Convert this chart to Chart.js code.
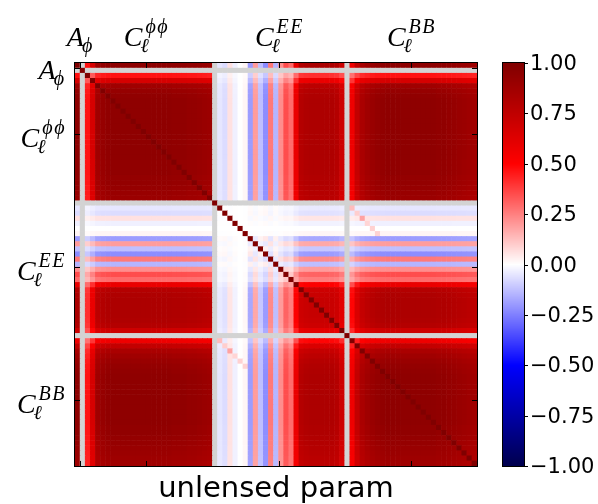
<!DOCTYPE html>
<html>
<head>
<meta charset="utf-8">
<script src="https://cdn.jsdelivr.net/npm/chart.js@4.4.1/dist/chart.umd.min.js"></script>
<style>
    html, body { margin: 0; padding: 0; background: #fff; }
    #wrap { width: 598px; height: 504px; }
</style>
</head>
<body>
<div id="wrap"><canvas id="corrChart" width="598" height="504"></canvas></div>
<script>
const aPhiBin = [0.98];
const phiBins = [0.48, 0.68, 0.9, 0.94, 0.96, 0.97, 0.97, 0.97, 0.97, 0.97, 0.97, 0.97, 0.97,
                 0.97, 0.97, 0.97, 0.97, 0.96, 0.96, 0.96, 0.95, 0.95, 0.94, 0.93, 0.92];
const eeBins = [-0.05, -0.07, 0.06, -0.03, 0.0, 0.02, -0.2, 0.2, -0.13, -0.23, 0.27, -0.15, 0.23,
                0.36, 0.3, 0.6, 0.82, 0.84, 0.85, 0.85, 0.85, 0.85, 0.84, 0.82, 0.72];
const bbBins = [0.58, 0.76, 0.86, 0.9, 0.93, 0.95, 0.96, 0.97, 0.97, 0.97, 0.97, 0.97, 0.97,
                0.97, 0.97, 0.97, 0.97, 0.96, 0.96, 0.95, 0.94, 0.93, 0.92, 0.91, 0.9];
// faint extra correlation between EE bin k and BB bin k
const eeBbDiag = [0.16, 0.15, 0.13, 0.11, 0.09, 0.07];

// tick positions (matrix index) and labels
const tickPos = [0.5, 13.5, 39.5, 65.5];
const tickLabels = [
    { base: "A", sub: "ϕ", sup: "" },
    { base: "C", sub: "ℓ", sup: "ϕϕ" },
    { base: "C", sub: "ℓ", sup: "EE" },
    { base: "C", sub: "ℓ", sup: "BB" },
];
const cbTicks = [1, 0.75, 0.5, 0.25, 0, -0.25, -0.5, -0.75, -1];
const xLabel = "unlensed param";

// seismic colormap
const cmapStops = [
    [-1, [0, 0, 77]],
    [-0.5, [0, 0, 255]],
    [0, [255, 255, 255]],
    [0.5, [255, 0, 0]],
    [1, [128, 0, 0]],
];
function seismic(v) {
    v = Math.max(-1, Math.min(1, v));
    for (let k = 0; k < cmapStops.length - 1; k++) {
        const [v0, c0] = cmapStops[k];
        const [v1, c1] = cmapStops[k + 1];
        if (v <= v1) {
            const t = (v - v0) / (v1 - v0);
            const c = c0.map((c, i) => Math.round(c + (c1[i] - c) * t));
            return `rgb(${c[0]},${c[1]},${c[2]})`;
        }
    }
    return "rgb(128,0,0)";
}

// Build the matrix layout: A_phi | gap | phi | gap | EE | gap | BB
const groups = [aPhiBin, phiBins, eeBins, bbBins];
const loads = [];
const kind = [];
groups.forEach((g, gi) => {
    if (gi > 0) {
        loads.push(null);
        kind.push(null);
    }
    g.forEach((v, k) => {
        loads.push(v);
        kind.push([gi, k]);
    });
});
const N = loads.length;

const points = [];
const colors = [];
for (let i = 0; i < N; i++) {
    for (let j = 0; j < N; j++) {
        let v;
        if (i === j) v = 1;
        else if (loads[i] === null || loads[j] === null) v = null;
        else {
            v = loads[i] * loads[j];
            const a = kind[i], b = kind[j];
            if (a[0] !== b[0] && a[0] + b[0] === 5 && a[1] === b[1] && a[1] < eeBbDiag.length) {
                v += eeBbDiag[a[1]];
            }
        }
        points.push({ x: j, y: i });
        colors.push(v === null ? "#d3d3d3" : seismic(v));
    }
}

function cellRadius(ctx) {
    const sx = ctx.chart.scales.x;
    const w = Math.abs(sx.getPixelForValue(1) - sx.getPixelForValue(0));
    return (w + 0.6) / Math.SQRT2;
}

// draw "base_sub^sup" math-like label
function drawMath(ctx, lab, x, y, align) {
    const baseFont = 'italic 28px "Liberation Serif", "DejaVu Serif", serif';
    const scriptFont = 'italic 20px "Liberation Serif", "DejaVu Serif", serif';
    ctx.letterSpacing = "0px";
    ctx.font = baseFont;
    const wb = ctx.measureText(lab.base).width;
    ctx.font = scriptFont;
    ctx.letterSpacing = "1.5px";
    const wsup = ctx.measureText(lab.sup).width;
    ctx.letterSpacing = "0px";
    const wsub = ctx.measureText(lab.sub).width;
    const ws = Math.max(wsub, wsup + 3);
    const total = wb + ws;
    const x0 = align === "center" ? x - total / 2 : x - total;
    ctx.textAlign = "left";
    ctx.textBaseline = "alphabetic";
    ctx.font = baseFont;
    ctx.fillText(lab.base, x0, y);
    ctx.font = scriptFont;
    if (lab.sub) ctx.fillText(lab.sub, x0 + wb - 2, y + 6);
    if (lab.sup) {
        ctx.letterSpacing = "1.5px";
        ctx.fillText(lab.sup, x0 + wb + 3, y - 13);
        ctx.letterSpacing = "0px";
    }
}

const decorPlugin = {
    id: "decor",
    afterDraw(chart) {
        const { ctx, chartArea: a, scales } = chart;
        const sx = scales.x, sy = scales.y;
        ctx.save();
        ctx.strokeStyle = "#000";
        ctx.fillStyle = "#000";
        ctx.lineWidth = 1;
        const line = (x1, y1, x2, y2) => {
            ctx.beginPath();
            ctx.moveTo(x1, y1);
            ctx.lineTo(x2, y2);
            ctx.stroke();
        };
        // frame
        ctx.strokeRect(a.left - 0.5, a.top - 0.5, a.right - a.left + 1, a.bottom - a.top + 1);

        // ticks (inward, all sides) and labels
        tickPos.forEach((p, k) => {
            const px = Math.round(sx.getPixelForValue(p)) + 0.5;
            const py = Math.round(sy.getPixelForValue(p)) + 0.5;
            line(px, a.top, px, a.top + 5);
            line(px, a.bottom, px, a.bottom - 5);
            line(a.left, py, a.left + 5, py);
            line(a.right, py, a.right - 5, py);
            const lab = tickLabels[k];
            drawMath(ctx, lab, px, 46, "center");
            drawMath(ctx, lab, a.left - 9, py + (lab.sup ? 12 : 10), "right");
        });

        // x label
        ctx.font = '29px "DejaVu Sans", sans-serif';
        ctx.textAlign = "center";
        ctx.textBaseline = "alphabetic";
        ctx.fillText(xLabel, (a.left + a.right) / 2, 497);

        // colorbar
        const cbL = 503, cbR = 524, cbT = a.top, cbB = a.bottom;
        for (let yy = cbT; yy < cbB; yy++) {
            const v = 1 - 2 * ((yy + 0.5 - cbT) / (cbB - cbT));
            ctx.fillStyle = seismic(v);
            ctx.fillRect(cbL, yy, cbR - cbL, 1);
        }
        ctx.strokeStyle = "#000";
        ctx.strokeRect(cbL - 0.5, cbT - 0.5, cbR - cbL + 1, cbB - cbT + 1);
        ctx.fillStyle = "#000";
        ctx.font = '21px "DejaVu Sans", sans-serif';
        ctx.textAlign = "left";
        ctx.textBaseline = "middle";
        cbTicks.forEach((t) => {
            const yy = Math.round(cbT + (1 - t) / 2 * (cbB - cbT)) + 0.5;
            line(cbR, yy, cbR + 4, yy);
            ctx.fillText(t.toFixed(2).replace("-", "\u2212"), cbR + 6, yy + 1);
        });
        ctx.restore();
    },
};

new Chart(document.getElementById("corrChart"), {
    type: "scatter",
    data: {
        datasets: [
            {
                data: points,
                pointStyle: "rect",
                pointRadius: cellRadius,
                pointHoverRadius: cellRadius,
                backgroundColor: colors,
                borderWidth: 0,
            },
        ],
    },
    options: {
        responsive: false,
        animation: false,
        devicePixelRatio: 1,
        events: [],
        layout: {
            padding: { left: 75, top: 63, right: 121, bottom: 38 },
        },
        plugins: {
            legend: { display: false },
            tooltip: { enabled: false },
        },
        scales: {
            x: { type: "linear", min: -0.5, max: N - 0.5, display: false },
            y: { type: "linear", min: -0.5, max: N - 0.5, reverse: true, display: false },
        },
    },
    plugins: [decorPlugin],
});
</script>
</body>
</html>
